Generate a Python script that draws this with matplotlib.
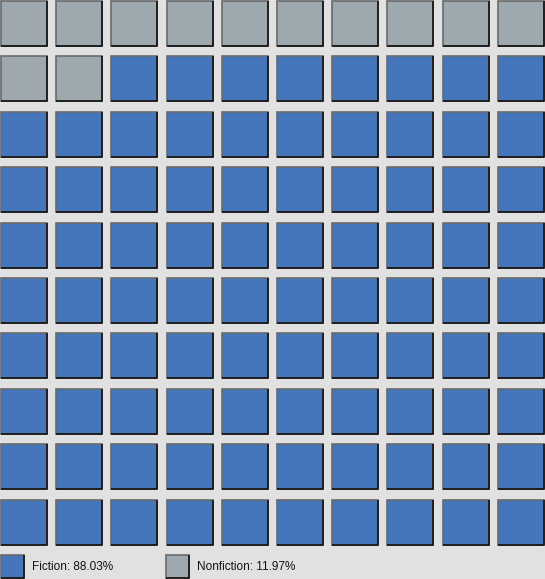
import matplotlib.pyplot as plt
from matplotlib.patches import Rectangle

categories = ['Fiction', 'Nonfiction']
percentages = [88.03, 11.97]
colors = {'Fiction': '#4575bb', 'Nonfiction': '#9da9af'}
fill_order = ['Nonfiction', 'Fiction']  # nonfiction fills the top-left first

n_rows, n_cols = 10, 10
pct = dict(zip(categories, percentages))
counts = {c: int(round(pct[c])) for c in categories}

W, H = 545, 579
fig = plt.figure(figsize=(W / 100, H / 100), dpi=100)
fig.patch.set_facecolor('#e1e1e1')
ax = fig.add_axes([0, 0, 1, 1])
ax.set_facecolor('#e1e1e1')
ax.set_xlim(0, W)
ax.set_ylim(H, 0)
ax.axis('off')

pitch_x, pitch_y = 55.2, 55.4
size_w, size_h = 46, 45
x0, y0 = 1, 1


def square(x, y, w, h, fc):
    ax.add_patch(Rectangle((x, y), w, h, facecolor=fc, edgecolor='#6a6a6a', lw=1.2))
    # darker bottom/right edge for the bevelled look
    ax.plot([x, x + w, x + w], [y + h, y + h, y], color='#111111', lw=1.2,
            solid_capstyle='butt')


cells = []
for c in fill_order:
    cells += [c] * counts[c]

for i, c in enumerate(cells[:n_rows * n_cols]):
    r, k = divmod(i, n_cols)
    square(x0 + k * pitch_x, y0 + r * pitch_y, size_w, size_h, colors[c])

# legend
leg_x = [1, 166]
for c, lx in zip(categories, leg_x):
    square(lx, 555, 23, 23, colors[c])
    ax.text(lx + 31, 567, f'{c}: {pct[c]:.2f}%', fontsize=8.5, va='center',
            ha='left', family='Liberation Sans', color='#111111')

fig.savefig('out.png', dpi=100, facecolor=fig.get_facecolor())
